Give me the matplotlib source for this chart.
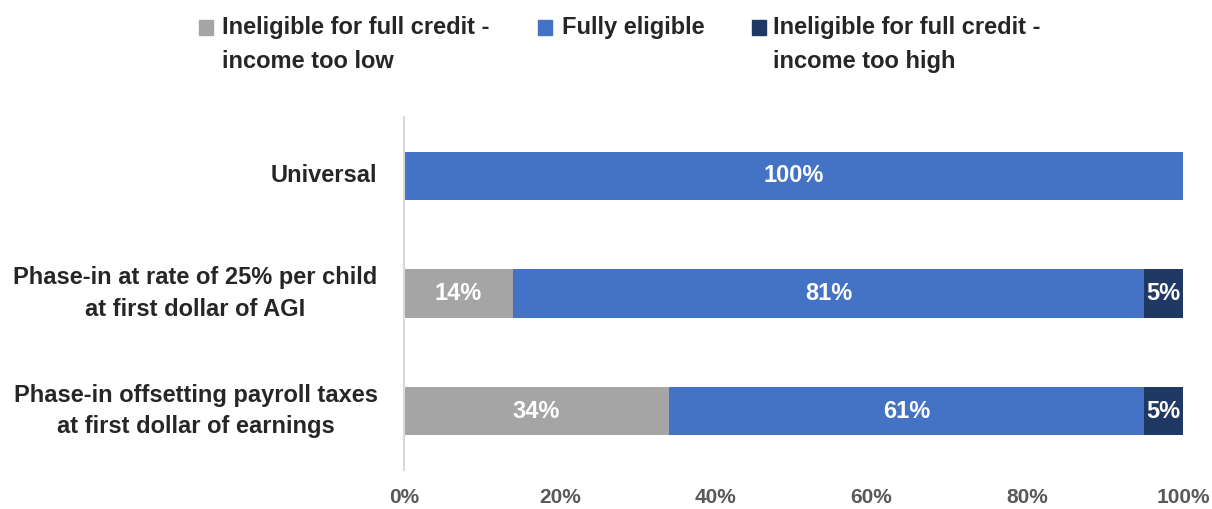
import matplotlib
matplotlib.use("Agg")
import matplotlib.pyplot as plt
from matplotlib.patches import Rectangle

plt.rcParams['font.family'] = ['Liberation Sans', 'DejaVu Sans']
plt.rcParams['font.weight'] = 'bold'

categories = ['Universal',
              'Phase-in at rate of 25% per child\nat first dollar of AGI',
              'Phase-in offsetting payroll taxes\nat first dollar of earnings']
too_low = [0, 14, 34]
eligible = [100, 81, 61]
too_high = [0, 5, 5]
series_names = ['Ineligible for full credit -\nincome too low',
                'Fully eligible',
                'Ineligible for full credit -\nincome too high']
colors = ['#A5A5A5', '#4472C4', '#203864']
ticks = [0, 20, 40, 60, 80, 100]

W, H = 1212, 509
fig = plt.figure(figsize=(W / 100, H / 100), dpi=100)
ax = fig.add_axes([404 / W, 1 - 470 / H, 779 / W, 353 / H])

y = range(len(categories))
left = [0] * len(categories)
for vals, col in zip([too_low, eligible, too_high], colors):
    bars = ax.barh(y, vals, left=left, height=0.41, color=col)
    for b, v in zip(bars, vals):
        if v > 0:
            ax.text(b.get_x() + b.get_width() / 2, b.get_y() + b.get_height() / 2,
                    f'{v}%', ha='center', va='center', color='white',
                    fontsize=17, fontweight='bold')
    left = [l + v for l, v in zip(left, vals)]

ax.set_xlim(0, 100)
ax.set_ylim(2.5, -0.5)
ax.set_yticks(list(y))
ax.set_yticklabels(categories, fontsize=17, color='#262626', ha='right', va='center',
                   multialignment='center', linespacing=1.45)
ax.set_xticks(ticks)
ax.set_xticklabels([f'{t}%' for t in ticks], fontsize=15, color='#595959')
ax.tick_params(axis='both', length=0)
ax.tick_params(axis='x', pad=13)
ax.tick_params(axis='y', pad=19)
for s in ['top', 'right', 'bottom']:
    ax.spines[s].set_visible(False)
ax.spines['left'].set_color('#D9D9D9')
ax.spines['left'].set_linewidth(1.5)

# legend drawn by hand so the swatch lines up with the first text line
sq_x = [199, 538, 752]
txt_x = [222, 562, 773]
for sx, tx, c, name in zip(sq_x, txt_x, colors, series_names):
    fig.patches.append(Rectangle((sx / W, 1 - 35 / H), 14 / W, 15 / H,
                                 color=c, transform=fig.transFigure))
    fig.text(tx / W, 1 - 16 / H, name, ha='left', va='top', fontsize=17,
             color='#262626', linespacing=1.6)

fig.savefig('out.png', dpi=100)
